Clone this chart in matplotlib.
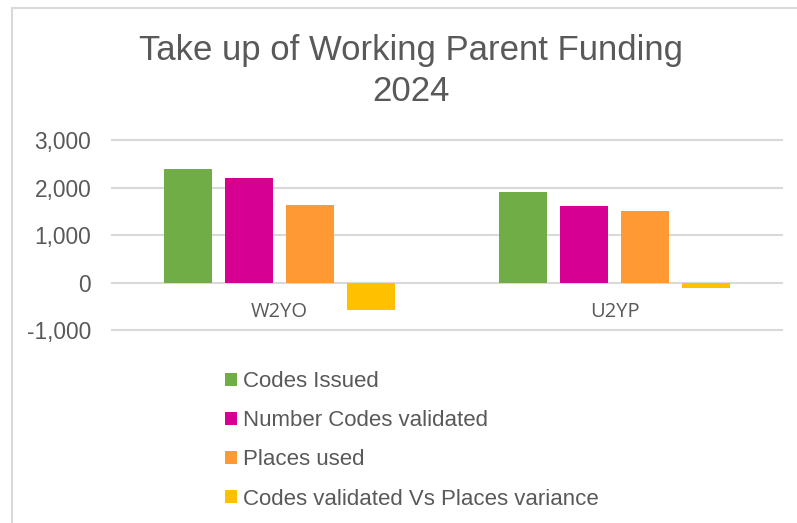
import numpy as np
import matplotlib

matplotlib.use("Agg")
import matplotlib.pyplot as plt
import matplotlib.patches as patches
from matplotlib.ticker import FuncFormatter

# data
categories = ["W2YO", "U2YP"]
series_names = ["Codes Issued", "Number Codes validated", "Places used",
                "Codes validated Vs Places variance"]
codes_issued = [2390, 1900]
codes_validated = [2200, 1620]
places_used = [1630, 1500]
variance = [-570, -120]
y_ticks = [-1000, 0, 1000, 2000, 3000]

colors = ["#70AD47", "#D60093", "#FF9933", "#FFC000"]
text_grey = "#595959"
grid_grey = "#D9D9D9"

W, H = 797, 523
fig = plt.figure(figsize=(W / 100, H / 100), dpi=100)

# chart area border (light grey, cropped at right/bottom)
border = patches.Rectangle((12 / W, -0.1), 1.2, 1 - 8 / H + 0.1, transform=fig.transFigure,
                           fill=False, edgecolor="#D9D9D9", linewidth=1.5)
fig.add_artist(border)

# plot area in pixels: x 112..782, y 140..330
ax = fig.add_axes([112 / W, (H - 330) / H, 670 / W, 190 / H])

x = np.arange(len(categories))
bar_w = 48 / 335
step = 61 / 335
all_series = [codes_issued, codes_validated, places_used, variance]
handles = []
for i, (vals, c) in enumerate(zip(all_series, colors)):
    h = ax.bar(x + (i - 1.5) * step, vals, width=bar_w, color=c, zorder=3)
    handles.append(h)

ax.set_xlim(-0.5, 1.5)
ax.set_ylim(-1000, 3000)
ax.set_yticks(y_ticks)
ax.yaxis.set_major_formatter(FuncFormatter(lambda v, p: f"{int(v):,}"))
for s in ax.spines.values():
    s.set_visible(False)
ax.tick_params(axis="y", length=0, pad=15, labelsize=16.4, labelcolor=text_grey)
ax.tick_params(axis="x", length=0, labelbottom=False)
for t in y_ticks:
    ax.axhline(t, color=grid_grey, linewidth=1.5, zorder=1, clip_on=False)
for lab in ax.get_yticklabels():
    lab.set_fontfamily("Liberation Sans")

# category labels just under the zero line
for xi, cat in zip(x, categories):
    ax.text(xi, -620, cat, ha="center", va="center", fontsize=14.5,
            color=text_grey, family="Open Sans")

# title, two lines
fig.text(411 / W, 1 - 60 / H, "Take up of Working Parent Funding", ha="center",
         va="baseline", fontsize=25, color=text_grey, family="Liberation Sans")
fig.text(411 / W, 1 - 101 / H, "2024", ha="center",
         va="baseline", fontsize=25, color=text_grey, family="Liberation Sans")

fig.legend(handles, series_names, loc="upper left", bbox_to_anchor=(205 / W, 1 - 351 / H),
           frameon=False, handlelength=0.53, handleheight=0.53,
           handletextpad=0.3, labelspacing=0.82, labelcolor=text_grey,
           prop={"family": "Liberation Sans", "size": 16})

fig.savefig("out.png", dpi=100)
